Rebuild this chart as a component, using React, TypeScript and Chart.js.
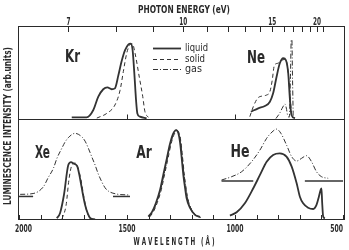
import React, { useEffect, useRef } from "react";
import { Chart, registerables } from "chart.js";
Chart.register(...registerables);

// ---- data: [wavelength (Å), intensity (arb. units)] ----
const KR_LIQUID = [[1756,0.018],[1687,0.018],[1656,0.097],[1633,0.24],[1610,0.32],[1591,0.34],[1571,0.32],[1556,0.33],[1540,0.47],[1525,0.62],[1509,0.74],[1494,0.80],[1483,0.81],[1474,0.74],[1466,0.49],[1458,0.20],[1452,0.06],[1440,0.025],[1409,0.008]];
const KR_SOLID = [[1640,0.01],[1594,0.06],[1556,0.15],[1532,0.31],[1517,0.51],[1501,0.71],[1486,0.80],[1475,0.81],[1463,0.71],[1443,0.45],[1427,0.24],[1417,0.08],[1401,0.018]];

const NE_LIQUID = [[926,0.078],[892,0.115],[861,0.14],[838,0.186],[823,0.276],[807,0.455],[792,0.599],[776,0.653],[764,0.634],[753,0.491],[745,0.204],[738,0.043],[722,0.008]];
const NE_SOLID = [[931,0.025],[915,0.132],[895,0.223],[874,0.247],[853,0.258],[838,0.294],[827,0.419],[819,0.562],[813,0.59],[800,0.6],[784,0.63],[770,0.64],[759,0.6],[750,0.42],[743,0.2],[738,0.07],[731,0.01]];
const NE_GAS = [[810,0.005],[792,0.065],[778,0.129],[768,0.161],[762,0.118],[755,0.032],[748,0.02],[743,0.42],[739,0.85],[736,0.85],[733,0.42],[729,0.02],[718,0.005]];

const XE_LIQUID = [[1825,0.017],[1810,0.07],[1792,0.25],[1772,0.545],[1759,0.574],[1749,0.56],[1731,0.535],[1718,0.416],[1704,0.25],[1694,0.149],[1681,0.06],[1671,0.02],[1648,0.005]];
const XE_SOLID = [[1801,0.01],[1782,0.149],[1769,0.40],[1755,0.545],[1741,0.564],[1727,0.515],[1713,0.396],[1699,0.218],[1685,0.079],[1667,0.01]];
const XE_GAS = [[1995,0.254],[1935,0.262],[1887,0.33],[1866,0.416],[1841,0.512],[1824,0.614],[1802,0.71],[1787,0.772],[1772,0.815],[1741,0.858],[1710,0.825],[1694,0.78],[1679,0.71],[1663,0.624],[1648,0.545],[1633,0.455],[1617,0.379],[1602,0.32],[1587,0.287],[1548,0.257],[1494,0.248]];
const XE_GAS_BASE_L = [[2005,0.233],[1935,0.233]];
const XE_GAS_BASE_R = [[1565,0.233],[1486,0.233]];

const AR_LIQUID = [[1401,0.033],[1384,0.08],[1366,0.168],[1347,0.297],[1332,0.446],[1315,0.614],[1301,0.752],[1287,0.85],[1273,0.89],[1262,0.86],[1255,0.78],[1248,0.644],[1239,0.446],[1231,0.317],[1224,0.218],[1208,0.119],[1185,0.05],[1162,0.03]];
const AR_SOLID = [[1395,0.03],[1378,0.08],[1360,0.17],[1341,0.30],[1326,0.45],[1309,0.62],[1295,0.76],[1281,0.85],[1268,0.88],[1257,0.85],[1250,0.77],[1243,0.63],[1234,0.44],[1226,0.31],[1218,0.21],[1203,0.11],[1180,0.045],[1158,0.025]];
const AR_GAS = [[1398,0.03],[1381,0.08],[1363,0.17],[1344,0.30],[1329,0.45],[1312,0.62],[1298,0.76],[1284,0.85],[1271,0.89],[1260,0.86],[1252,0.78],[1245,0.64],[1236,0.45],[1228,0.32],[1220,0.22],[1205,0.12],[1182,0.05],[1160,0.03]];

const HE_LIQUID = [[1023,0.043],[992,0.076],[954,0.165],[915,0.314],[884,0.446],[853,0.577],[823,0.644],[792,0.66],[761,0.627],[737,0.528],[714,0.363],[699,0.231],[684,0.165],[661,0.122],[637,0.109],[622,0.149],[611,0.231],[603,0.297],[599,0.314],[596,0.181],[591,0.033],[583,0.017]];
const HE_GAS = [[1062,0.396],[1015,0.429],[969,0.478],[923,0.577],[884,0.693],[853,0.809],[823,0.881],[807,0.90],[787,0.858],[761,0.743],[737,0.627],[714,0.584],[691,0.611],[668,0.637],[645,0.577],[622,0.478],[599,0.429],[568,0.413]];
const HE_GAS_BASE_L = [[1062,0.386],[915,0.386]];
const HE_GAS_BASE_R = [[676,0.386],[499,0.386]];

// ---- axes ----
const WAVELENGTH_TICKS = [2000,1900,1800,1700,1600,1500,1400,1300,1200,1100,1000,900,800,700,600,500];
const WAVELENGTH_LABELS = [2000,1500,1000,500];
const PHOTON_TICKS = [7,8,9,10,11,12,13,14,15,16,17,18,19,20,21];
const PHOTON_LABELS = [7,10,15,20];
const DIVIDER_TICKS = [1500,1000];
const HC = 12398.4; // eV·Å

const PANEL_LABELS = ["Kr","Ne","Xe","Ar","He"];
const LEGEND_LABELS = ["liquid","solid","gas"];

const INK = "#2a2a2a";
const LINE = "#333333";
const STYLES: any = {
  liquid: { borderWidth: 1.8, borderDash: [] },
  solid: { borderWidth: 1, borderDash: [4, 3] },
  gas: { borderWidth: 1, borderDash: [5, 2, 1, 2] },
  base: { borderWidth: 1.5, borderDash: [] },
};
const FAM = "'Liberation Sans Narrow','DejaVu Sans Condensed','Liberation Sans',sans-serif";

const mk = (label: string, arr: number[][], axis: string, kind: string) => ({
  label,
  data: arr.map(([x, y]) => ({ x, y })),
  yAxisID: axis,
  borderColor: LINE,
  backgroundColor: LINE,
  pointRadius: 0,
  tension: 0.4,
  cubicInterpolationMode: "monotone",
  fill: false,
  ...STYLES[kind],
});

function textFit(ctx: CanvasRenderingContext2D, text: string, cx: number, by: number, w: number, font: string, rot = 0) {
  ctx.save();
  ctx.font = font;
  ctx.textAlign = "center";
  ctx.textBaseline = "alphabetic";
  const m = ctx.measureText(text).width || 1;
  ctx.translate(cx, by);
  if (rot) ctx.rotate(rot);
  ctx.scale(w / m, 1);
  ctx.fillText(text, 0, 0);
  ctx.restore();
}

const decor = {
  id: "decor",
  beforeDraw(chart: any) {
    const { ctx, width, height } = chart;
    ctx.save();
    ctx.fillStyle = "#ffffff";
    ctx.fillRect(0, 0, width, height);
    ctx.restore();
  },
  afterDraw(chart: any) {
    const { ctx, chartArea: a, scales } = chart;
    const x = scales.x;
    const yT = scales.yTop;
    const line = (x1: number, y1: number, x2: number, y2: number) => {
      ctx.beginPath(); ctx.moveTo(x1, y1); ctx.lineTo(x2, y2); ctx.stroke();
    };
    ctx.save();
    ctx.strokeStyle = INK;
    ctx.fillStyle = INK;
    ctx.lineWidth = 1;
    ctx.setLineDash([]);
    ctx.strokeRect(a.left + 0.5, a.top + 0.5, a.right - a.left - 1, a.bottom - a.top - 1);
    const dy = Math.round(yT.bottom) + 0.5;
    line(a.left, dy, a.right, dy);

    // top photon energy ticks and labels
    PHOTON_TICKS.forEach((e) => {
      const px = Math.round(x.getPixelForValue(HC / e)) + 0.5;
      line(px, a.top, px, a.top + 6);
    });
    ctx.font = `bold 10px ${FAM}`;
    const sTop = 8 / (ctx.measureText("10").width || 1);
    PHOTON_LABELS.forEach((e) => {
      const px = x.getPixelForValue(HC / e);
      const t = String(e);
      const w = ctx.measureText(t).width * sTop;
      textFit(ctx, t, px, 25, w, `bold 10px ${FAM}`);
    });

    // bottom wavelength ticks and labels
    WAVELENGTH_TICKS.forEach((l) => {
      const px = Math.round(x.getPixelForValue(l)) + 0.5;
      line(px, a.bottom, px, a.bottom - 5);
    });
    DIVIDER_TICKS.forEach((l) => {
      const px = Math.round(x.getPixelForValue(l)) + 0.5;
      line(px, dy, px, dy - 5);
    });
    ctx.font = `bold 11px ${FAM}`;
    const sBot = 17 / (ctx.measureText("2000").width || 1);
    WAVELENGTH_LABELS.forEach((l) => {
      const t = String(l);
      const w = ctx.measureText(t).width * sBot;
      let cx = x.getPixelForValue(l);
      if (cx - w / 2 < a.left - 3) cx = a.left - 3 + w / 2;
      if (cx + w / 2 > a.right - 2) cx = a.right - 2 - w / 2;
      textFit(ctx, t, cx, 231.5, w, `bold 11px ${FAM}`);
    });

    // axis titles
    textFit(ctx, "PHOTON ENERGY (eV)", 184, 12.5, 92, `bold 10px ${FAM}`);
    textFit(ctx, "W A V E L E N G T H   ( Å )", 174, 245, 81, `bold 10px ${FAM}`);
    textFit(ctx, "LUMINESCENCE INTENSITY (arb.units)", 11, 126, 158, `bold 11px ${FAM}`, -Math.PI / 2);

    // panel labels
    const pl: [string, number, number, number][] = [
      [PANEL_LABELS[0], 72.5, 61.7, 15],
      [PANEL_LABELS[1], 256, 63.3, 18],
      [PANEL_LABELS[2], 42.5, 158.3, 15],
      [PANEL_LABELS[3], 144, 158.3, 15.5],
      [PANEL_LABELS[4], 240, 156.5, 19],
    ];
    pl.forEach(([t, cx, by, w]) => textFit(ctx, t, cx, by, w, `bold 18px ${FAM}`));

    // legend
    const kinds = ["liquid", "solid", "gas"];
    const ly = [48, 59, 69];
    const lb = [51, 62, 71.5];
    const lw = [23, 20, 17];
    kinds.forEach((k, i) => {
      ctx.save();
      ctx.strokeStyle = LINE;
      ctx.lineWidth = STYLES[k].borderWidth;
      ctx.setLineDash(STYLES[k].borderDash);
      line(153, ly[i] + 0.5, 181, ly[i] + 0.5);
      ctx.restore();
      textFit(ctx, LEGEND_LABELS[i], 185 + lw[i] / 2, lb[i], lw[i], `11px ${FAM}`);
    });
    ctx.restore();
  },
};

export default function App() {
  const ref = useRef<HTMLCanvasElement>(null);
  useEffect(() => {
    const hide = {
      grid: { display: false },
      border: { display: false },
      ticks: { display: false },
      title: { display: false },
    };
    const chart = new Chart(ref.current as HTMLCanvasElement, {
      type: "line",
      data: {
        datasets: [
          mk("Kr liquid", KR_LIQUID, "yTop", "liquid"),
          mk("Kr solid", KR_SOLID, "yTop", "solid"),
          mk("Ne liquid", NE_LIQUID, "yTop", "liquid"),
          mk("Ne solid", NE_SOLID, "yTop", "solid"),
          mk("Ne gas", NE_GAS, "yTop", "gas"),
          mk("Xe gas", XE_GAS, "yBot", "gas"),
          mk("Xe gas base L", XE_GAS_BASE_L, "yBot", "base"),
          mk("Xe gas base R", XE_GAS_BASE_R, "yBot", "base"),
          mk("Xe solid", XE_SOLID, "yBot", "solid"),
          mk("Xe liquid", XE_LIQUID, "yBot", "liquid"),
          mk("Ar gas", AR_GAS, "yBot", "gas"),
          mk("Ar solid", AR_SOLID, "yBot", "solid"),
          mk("Ar liquid", AR_LIQUID, "yBot", "liquid"),
          mk("He gas", HE_GAS, "yBot", "gas"),
          mk("He gas base L", HE_GAS_BASE_L, "yBot", "base"),
          mk("He gas base R", HE_GAS_BASE_R, "yBot", "base"),
          mk("He liquid", HE_LIQUID, "yBot", "liquid"),
        ] as any,
      },
      options: {
        animation: false,
        responsive: false,
        devicePixelRatio: 1,
        events: [],
        layout: { padding: { top: 26, right: 4, left: 0, bottom: 0 } },
        plugins: { legend: { display: false }, tooltip: { enabled: false }, title: { display: false } },
        scales: {
          x: {
            type: "linear", reverse: true, min: 490, max: 2005, position: "bottom",
            ...hide,
            afterFit: (s: any) => { s.height = 30; },
          },
          yBot: {
            type: "linear", position: "left", stack: "panels", stackWeight: 101, weight: 1,
            min: 0, max: 1, ...hide,
            afterFit: (s: any) => { s.width = 18; },
          },
          yTop: {
            type: "linear", position: "left", stack: "panels", stackWeight: 93, weight: 2,
            min: 0, max: 1, ...hide,
            afterFit: (s: any) => { s.width = 18; },
          },
        } as any,
      },
      plugins: [decor],
    } as any);
    return () => chart.destroy();
  }, []);
  return (
    <div style={{ position: "absolute", left: 0, top: 0, width: 349, height: 250, background: "#fff" }}>
      <canvas ref={ref} width={349} height={250} style={{ display: "block", width: 349, height: 250 }} />
    </div>
  );
}
